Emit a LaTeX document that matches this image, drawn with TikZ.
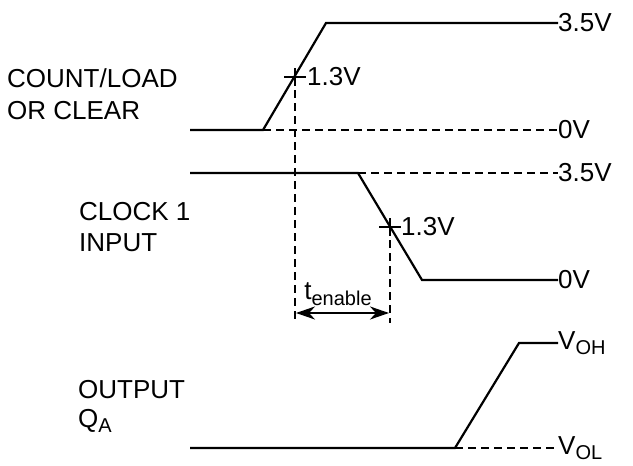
\documentclass[tikz,border=0pt]{standalone}
\usepackage{fontspec}
\setmainfont{Liberation Sans}
\usetikzlibrary{arrows.meta}
\newcommand{\lowsub}[1]{\raisebox{-0.4ex}{\fontsize{20}{20}\selectfont #1}}
\begin{document}
\begin{tikzpicture}[x=1pt,y=-1pt,
  wave/.style={line width=2.2pt,line join=miter},
  dashline/.style={line width=2pt,dash pattern=on 8pt off 5pt},
  tick/.style={line width=2pt},
  lbl/.style={font=\fontsize{26}{26}\selectfont,inner sep=0pt,anchor=west},
  rlbl/.style={font=\fontsize{26}{26}\selectfont,inner sep=0pt,anchor=west},
  dimline/.style={line width=2.2pt,>={Stealth[length=19pt,width=13pt,inset=6pt]},<->}]
\useasboundingbox (0,0) rectangle (633,466);
% left labels
\node[lbl] (l1) at (7,78) {COUNT/LOAD};
\node[lbl] (l2) at (7,111) {OR CLEAR};
\node[lbl] (l3) at (79,212) {CLOCK 1};
\node[lbl] (l4) at (79,243) {INPUT};
\node[lbl] (l5) at (78,390) {OUTPUT};
\node[lbl] (l6) at (78,421) {Q\lowsub{A}};
% right labels
\node[rlbl] (r1) at (558,23) {3.5V};
\node[rlbl] (r2) at (558,130) {0V};
\node[rlbl] (r3) at (558,173) {3.5V};
\node[rlbl] (r4) at (558,280) {0V};
\node[rlbl] (r5) at (558,343) {V\lowsub{OH}};
\node[rlbl] (r6) at (558,448) {V\lowsub{OL}};
% waveform 1
\coordinate (a0) at (190,130);
\coordinate (a1) at (263,130);
\coordinate (a2) at (326,23);
\draw[wave] (a0) -- (a1) -- (a2) -- (r1.west);
\draw[dashline] (a1) -- (r2.west);
\coordinate (c1) at (295,77);
\draw[tick] ([xshift=-11pt]c1) -- ([xshift=11pt]c1);
\draw[tick] ([yshift=-9pt]c1) -- ([yshift=9pt]c1);
\node[rlbl] (m1) at (307,77) {1.3V};
% waveform 2
\coordinate (b0) at (190,173);
\coordinate (b1) at (358,173);
\coordinate (b2) at (422,280);
\draw[wave] (b0) -- (b1) -- (b2) -- (r4.west);
\draw[dashline] (b1) -- (r3.west);
\coordinate (c2) at (390,227);
\draw[tick] ([xshift=-11pt]c2) -- ([xshift=11pt]c2);
\draw[tick] ([yshift=-9pt]c2) -- ([yshift=9pt]c2);
\node[rlbl] (m2) at (401,227) {1.3V};
% verticals
\coordinate (v1) at (295,323);
\coordinate (v2) at (390,323);
\draw[dashline] (c1) -- (v1);
\draw[dashline] (c2) -- (v2);
% arrow
\coordinate (p1) at (296,313);
\coordinate (p2) at (389,313);
\draw[dimline] (p1) -- (p2);
\node[font=\fontsize{26}{26}\selectfont,inner sep=0pt] (te) at (338,294) {t\lowsub{enable}};
% waveform 3
\coordinate (d0) at (190,448);
\coordinate (d1) at (455,448);
\coordinate (d2) at (519,343);
\draw[wave] (d0) -- (d1) -- (d2) -- (r5.west);
\draw[dashline] (d1) -- (r6.west);
\end{tikzpicture}
\end{document}
